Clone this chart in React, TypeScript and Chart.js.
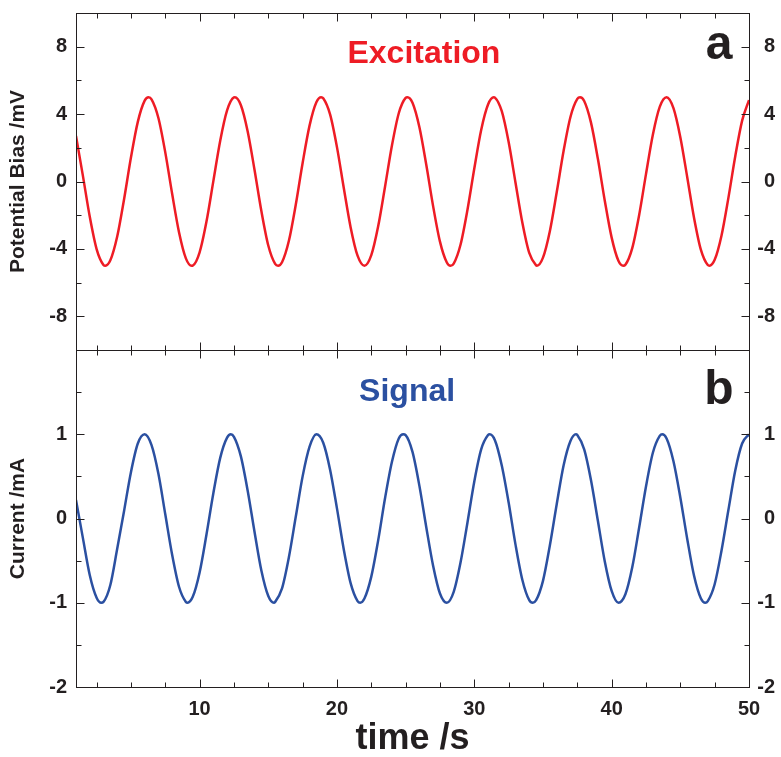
import React, { useEffect, useRef } from 'react';
import { Chart, registerables } from 'chart.js';

Chart.register(...registerables);

// ---- data ----
const timeV = [
  1, 1.5, 2, 2.5, 3, 3.14, 3.5, 4, 4.5, 5, 5.5, 6, 6.28, 6.5, 7, 7.5, 8, 8.5, 9, 9.42, 9.5, 10,
  10.5, 11, 11.5, 12, 12.5, 12.57, 13, 13.5, 14, 14.5, 15, 15.5, 15.71, 16, 16.5, 17, 17.5, 18,
  18.5, 18.85, 19, 19.5, 20, 20.5, 21, 21.5, 22, 22.5, 23, 23.5, 24, 24.5, 25, 25.13, 25.5, 26,
  26.5, 27, 27.5, 28, 28.27, 28.5, 29, 29.5, 30, 30.5, 31, 31.42, 31.5, 32, 32.5, 33, 33.5, 34,
  34.5, 34.56, 35, 35.5, 36, 36.5, 37, 37.5, 37.7, 38, 38.5, 39, 39.5, 40, 40.5, 40.84, 41, 41.5,
  42, 42.5, 43, 43.5, 44, 44.5, 45, 45.5, 46, 46.5, 47, 47.12, 47.5, 48, 48.5, 49, 49.5, 50,
];
const potential = [
  2.7, 0.35, -2.08, -4.01, -4.95, -5.0, -4.68, -3.27, -1.05, 1.42, 3.54, 4.8, 5.0, 4.88, 3.77, 1.73,
  -0.73, -3.01, -4.56, -5.0, -4.99, -4.2, -2.38, 0.02, 2.42, 4.22, 4.99, 5.0, 4.54, 2.97, 0.68,
  -1.77, -3.8, -4.89, -5.0, -4.79, -3.52, -1.38, 1.1, 3.3, 4.7, 5.0, 4.94, 3.98, 2.04, -0.4, -2.74,
  -4.4, -5.0, -4.37, -2.66, -0.31, 2.12, 4.05, 4.96, 5.0, 4.67, 3.23, 1.01, -1.46, -3.57, -4.81,
  -5.0, -4.87, -3.74, -1.69, 0.77, 3.06, 4.57, 5.0, 4.98, 4.17, 2.34, -0.07, -2.45, -4.24, -4.98,
  -5.0, -4.52, -2.95, -0.64, 1.81, 3.83, 4.9, 5.0, 4.78, 3.48, 1.33, -1.14, -3.33, -4.72, -5.0,
  -4.94, -3.95, -2.0, 0.44, 2.78, 4.43, 5.0, 4.35, 2.63, 0.27, -2.16, -4.06, -4.96, -5.0, -4.65,
  -3.2, -0.97, 1.5, 3.61, 4.83,
];

const timeI = [
  1, 1.5, 2, 2.5, 2.84, 3, 3.5, 4, 4.5, 5, 5.5, 6, 6.5, 7, 7.5, 8, 8.5, 9, 9.12, 9.5, 10, 10.5, 11,
  11.5, 12, 12.27, 12.5, 13, 13.5, 14, 14.5, 15, 15.41, 15.5, 16, 16.5, 17, 17.5, 18, 18.5, 19,
  19.5, 20, 20.5, 21, 21.5, 21.69, 22, 22.5, 23, 23.5, 24, 24.5, 24.83, 25, 25.5, 26, 26.5, 27,
  27.5, 28, 28.5, 29, 29.5, 30, 30.5, 31, 31.12, 31.5, 32, 32.5, 33, 33.5, 34, 34.26, 34.5, 35,
  35.5, 36, 36.5, 37, 37.4, 37.5, 38, 38.5, 39, 39.5, 40, 40.5, 41, 41.5, 42, 42.5, 43, 43.5,
  43.68, 44, 44.5, 45, 45.5, 46, 46.5, 46.82, 47, 47.5, 48, 48.5, 49, 49.5, 50,
];
const current = [
  0.22, -0.23, -0.67, -0.94, -1.0, -0.99, -0.79, -0.36, 0.09, 0.55, 0.89, 1.0, 0.87, 0.53, 0.05,
  -0.43, -0.81, -0.99, -1.0, -0.93, -0.64, -0.19, 0.3, 0.72, 0.96, 1.0, 0.97, 0.74, 0.33, -0.16,
  -0.62, -0.92, -1.0, -0.99, -0.83, -0.46, 0.02, 0.5, 0.85, 1.0, 0.9, 0.58, 0.12, -0.37, -0.77,
  -0.98, -1.0, -0.95, -0.69, -0.26, 0.24, 0.67, 0.95, 1.0, 0.99, 0.79, 0.39, -0.1, -0.56, -0.89,
  -1.0, -0.87, -0.52, -0.05, 0.44, 0.82, 0.99, 1.0, 0.93, 0.63, 0.19, -0.31, -0.73, -0.97, -1.0,
  -0.97, -0.74, -0.32, 0.17, 0.63, 0.92, 1.0, 0.99, 0.82, 0.45, -0.03, -0.51, -0.86, -1.0, -0.9,
  -0.58, -0.11, 0.38, 0.78, 0.98, 1.0, 0.95, 0.68, 0.25, -0.24, -0.68, -0.95, -1.0, -0.98, -0.78,
  -0.38, 0.1, 0.57, 0.89, 1.0,
];

// ---- axis ticks ----
const xTickLabels = [10, 20, 30, 40, 50];
const xMinorTicks = [2.5, 5, 7.5, 12.5, 15, 17.5, 22.5, 25, 27.5, 32.5, 35, 37.5, 42.5, 45, 47.5];
const xMajorTicks = [10, 20, 30, 40];
const potentialTickLabels = [-8, -4, 0, 4, 8];
const potentialMinorTicks = [-6, -2, 2, 6];
const currentTickLabels = [-2, -1, 0, 1];
const currentMajorTicks = [-1, 0, 1];
const currentMinorTicks = [-1.5, -0.5, 0.5, 1.5];

const titleTop = 'Excitation';
const titleBottom = 'Signal';
const yTitleTop = 'Potential Bias /mV';
const yTitleBottom = 'Current /mA';
const xTitle = 'time /s';

const RED = '#ee1c25';
const BLUE = '#2b50a1';
const INK = '#231f20';
const SANS = "'Liberation Sans', Arial, sans-serif";

const tickFont = { family: SANS, size: 20, weight: 'bold' as const };

const framePlugin = {
  id: 'frame',
  afterDatasetsDraw(chart: any) {
    const { ctx, chartArea, scales } = chart;
    const x = scales.x;
    const yT = scales.yTop;
    const yB = scales.yBot;
    const L = chartArea.left;
    const R = chartArea.right;
    const px = (v: number) => Math.round(v) + 0.5;
    ctx.save();
    ctx.strokeStyle = INK;
    ctx.lineWidth = 1;
    ctx.strokeRect(px(L), px(yT.top), Math.round(R - L), Math.round(yT.bottom - yT.top));
    ctx.strokeRect(px(L), px(yB.top), Math.round(R - L), Math.round(yB.bottom - yB.top));
    const seg = (x1: number, y1: number, x2: number, y2: number) => {
      ctx.beginPath();
      ctx.moveTo(x1, y1);
      ctx.lineTo(x2, y2);
      ctx.stroke();
    };
    const edgesDown = [yT.top, yB.top];
    const edgesUp = [yT.bottom, yB.bottom];
    const drawX = (v: number, len: number) => {
      const xx = px(x.getPixelForValue(v));
      edgesDown.forEach((e) => seg(xx, px(e), xx, px(e) + len));
      edgesUp.forEach((e) => seg(xx, px(e), xx, px(e) - len));
    };
    xMajorTicks.forEach((v) => drawX(v, 8));
    xMinorTicks.forEach((v) => drawX(v, 5));
    const drawY = (scale: any, v: number, len: number) => {
      const yy = px(scale.getPixelForValue(v));
      seg(px(L), yy, px(L) + len, yy);
      seg(px(R), yy, px(R) - len, yy);
    };
    potentialTickLabels.forEach((v) => drawY(yT, v, 8));
    potentialMinorTicks.forEach((v) => drawY(yT, v, 5));
    currentMajorTicks.forEach((v) => drawY(yB, v, 8));
    currentMinorTicks.forEach((v) => drawY(yB, v, 5));

    // panel titles and letters
    ctx.textBaseline = 'alphabetic';
    ctx.textAlign = 'center';
    ctx.font = `bold 32px ${SANS}`;
    ctx.fillStyle = RED;
    ctx.fillText(titleTop, L + 0.517 * (R - L), yT.top + 50);
    ctx.fillStyle = BLUE;
    ctx.fillText(titleBottom, L + 0.492 * (R - L), yB.top + 51);
    ctx.fillStyle = INK;
    ctx.font = `bold 48px ${SANS}`;
    ctx.fillText('a', R - 30, yT.top + 46);
    ctx.fillText('b', R - 30, yB.top + 54);
    ctx.restore();
  },
};

const yCommon = (min: number, max: number, labels: number[], position: 'left' | 'right', stack: string) => ({
  type: 'linear' as const,
  position,
  stack,
  stackWeight: 1,
  min,
  max,
  afterBuildTicks: (s: any) => {
    s.ticks = labels.map((v) => ({ value: v }));
  },
  afterFit: (s: any) => {
    s.width = position === 'left' ? 76 : 26;
    s.paddingTop = 0;
    s.paddingBottom = 0;
  },
  grid: { display: false, drawTicks: false },
  border: { display: false },
  ticks: {
    font: tickFont,
    color: INK,
    padding: 9,
    autoSkip: false,
    crossAlign: position === 'left' ? ('near' as const) : ('far' as const),
    callback: (v: any) => String(v),
  },
});

export default function App() {
  const ref = useRef<HTMLCanvasElement>(null);
  useEffect(() => {
    if (!ref.current) return;
    const chart = new Chart(ref.current, {
      type: 'line',
      data: {
        datasets: [
          {
            label: 'Potential',
            data: timeV.map((t, i) => ({ x: t, y: potential[i] })),
            borderColor: RED,
            borderWidth: 2.5,
            pointRadius: 0,
            cubicInterpolationMode: 'monotone',
            yAxisID: 'yTop',
          },
          {
            label: 'Current',
            data: timeI.map((t, i) => ({ x: t, y: current[i] })),
            borderColor: BLUE,
            borderWidth: 2.5,
            pointRadius: 0,
            cubicInterpolationMode: 'monotone',
            yAxisID: 'yBot',
          },
        ],
      },
      options: {
        responsive: false,
        animation: false,
        layout: { padding: { top: 13, right: 6, left: 0, bottom: 0 } },
        plugins: { legend: { display: false }, tooltip: { enabled: false } },
        scales: {
          x: {
            type: 'linear',
            position: 'bottom',
            min: 1,
            max: 50,
            afterBuildTicks: (s: any) => {
              s.ticks = xTickLabels.map((v) => ({ value: v }));
            },
            afterFit: (s: any) => {
              s.height = 70;
              s.paddingLeft = 0;
              s.paddingRight = 0;
            },
            grid: { display: false, drawTicks: false },
            border: { display: false },
            ticks: {
              font: tickFont,
              color: INK,
              padding: 10,
              maxRotation: 0,
              autoSkip: false,
              callback: (v: any) => String(v),
            },
            title: {
              display: true,
              text: xTitle,
              color: INK,
              font: { family: SANS, size: 36, weight: 'bold', lineHeight: 1 },
              padding: 0,
            },
          },
          yBot: {
            ...yCommon(-2, 2, currentTickLabels, 'left', 'left'),
            title: {
              display: true,
              text: yTitleBottom,
              color: INK,
              font: { family: SANS, size: 21, weight: 'bold' },
              padding: { top: 6, bottom: 0 },
            },
          },
          yTop: {
            ...yCommon(-10, 10, potentialTickLabels, 'left', 'left'),
            title: {
              display: true,
              text: yTitleTop,
              color: INK,
              font: { family: SANS, size: 21, weight: 'bold' },
              padding: { top: 6, bottom: 0 },
            },
          },
          yTopR: yCommon(-10, 10, potentialTickLabels, 'right', 'right'),
          yBotR: yCommon(-2, 2, currentTickLabels, 'right', 'right'),
        } as any,
      },
      plugins: [framePlugin],
    });
    return () => chart.destroy();
  }, []);
  return (
    <canvas
      ref={ref}
      width={781}
      height={757}
      style={{ position: 'absolute', left: 0, top: 0, width: 781, height: 757 }}
    />
  );
}
